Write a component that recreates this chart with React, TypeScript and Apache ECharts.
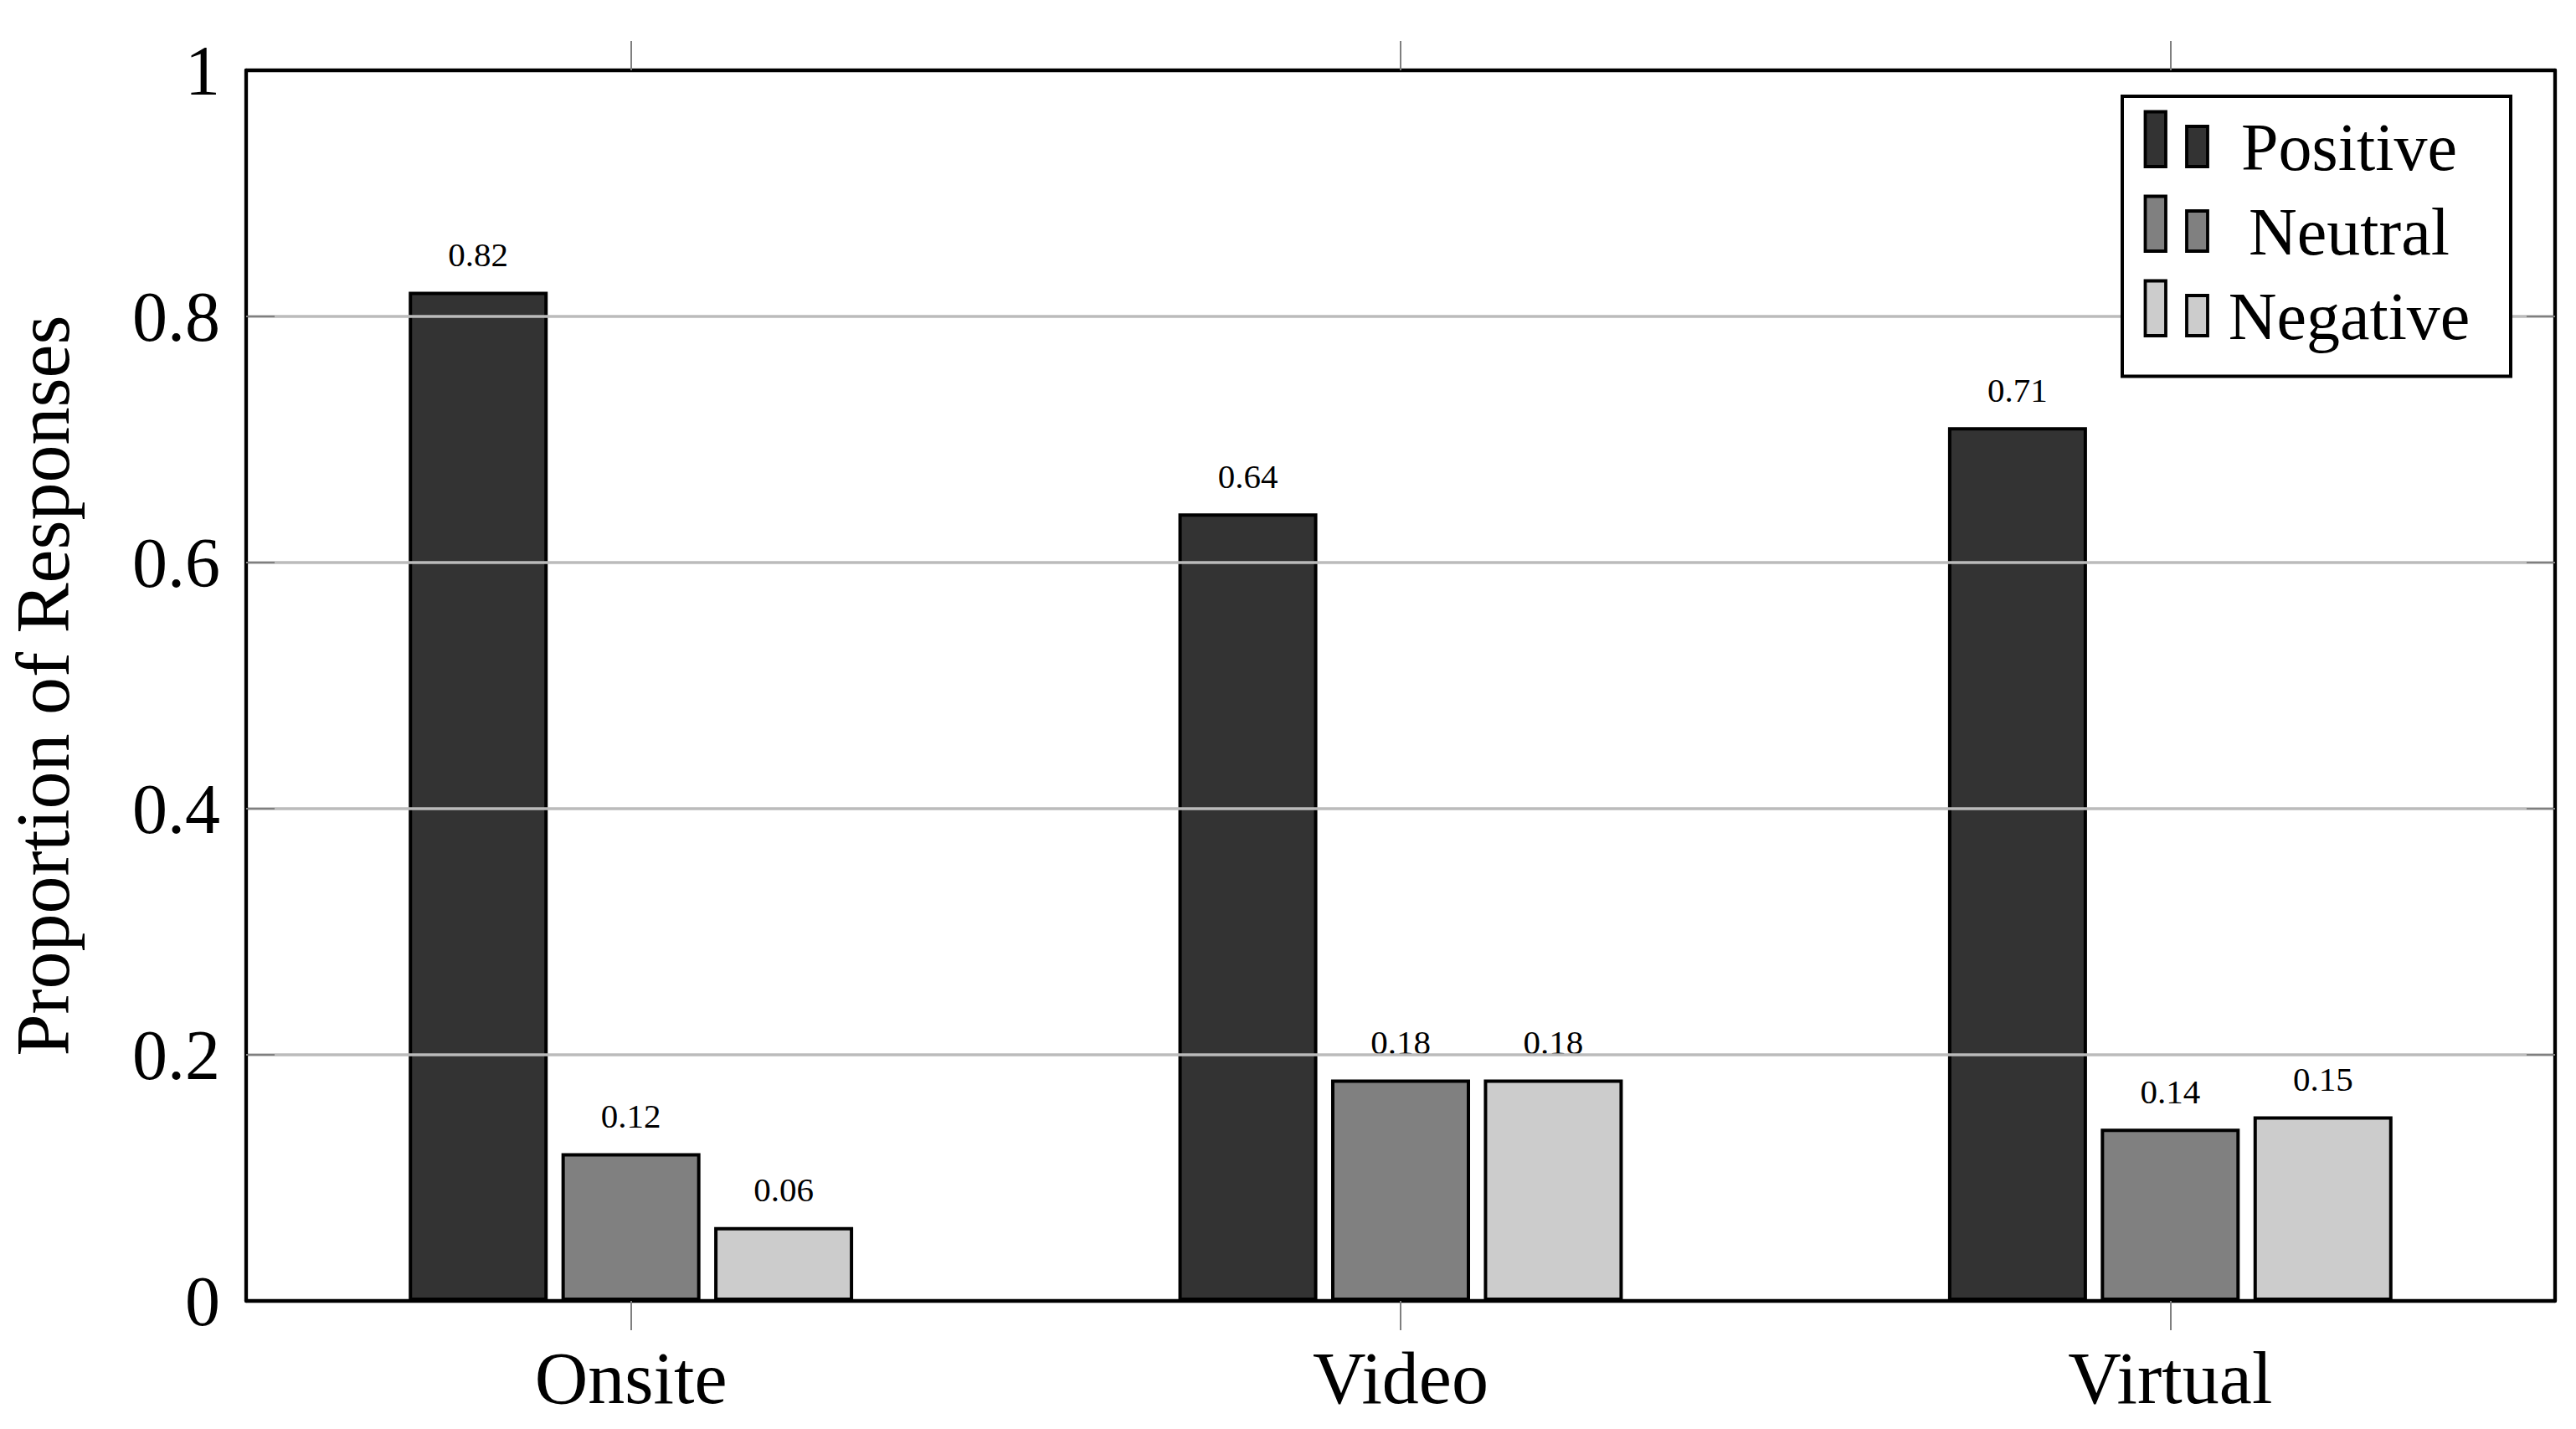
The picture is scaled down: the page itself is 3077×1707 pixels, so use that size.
import React, { useEffect, useRef } from "react";
import * as echarts from "echarts";

const categories = ["Onsite", "Video", "Virtual"];
const seriesNames = ["Positive", "Neutral", "Negative"];
const positive = [0.82, 0.64, 0.71];
const neutral = [0.12, 0.18, 0.14];
const negative = [0.06, 0.18, 0.15];
const seriesValues = [positive, neutral, negative];
const colors = ["#333333", "#808080", "#cccccc"];
const yMin = 0;
const yMax = 1;
const yInterval = 0.2;
const yTitle = "Proportion of Responses";

const FONT = "'Liberation Serif', 'Times New Roman', serif";

export default function App() {
  const ref = useRef<HTMLDivElement>(null);
  useEffect(() => {
    if (!ref.current) return;
    const chart = echarts.init(ref.current, null, { renderer: "svg" });

    const legendGraphics: any[] = [
      {
        type: "rect",
        shape: { x: 2535, y: 115, width: 464, height: 334.5 },
        style: { fill: "#ffffff", stroke: "#000000", lineWidth: 4 },
        z: 100,
      },
    ];
    seriesNames.forEach((name, i) => {
      const dy = 101 * i;
      legendGraphics.push({
        type: "rect",
        shape: { x: 2562.5, y: 133.5 + dy, width: 24.5, height: 65.5 },
        style: { fill: colors[i], stroke: "#000", lineWidth: 3.8 },
        z: 101,
      });
      legendGraphics.push({
        type: "rect",
        shape: { x: 2612, y: 151 + dy, width: 25, height: 48 },
        style: { fill: colors[i], stroke: "#000", lineWidth: 3.8 },
        z: 101,
      });
      legendGraphics.push({
        type: "text",
        x: 2806,
        y: 176 + dy,
        style: {
          text: name,
          fontSize: 80,
          fontFamily: FONT,
          fill: "#000",
          align: "center",
          verticalAlign: "middle",
        },
        z: 101,
      });
    });

    const axisLineStyle = { color: "#000", width: 4.3 };
    const tickStyle = { color: "#7f7f7f", width: 2 };

    chart.setOption({
      animation: false,
      backgroundColor: "#ffffff",
      grid: {
        left: 294,
        right: 25,
        top: 84,
        bottom: 153,
        containLabel: false,
        outerBoundsMode: "none",
      },
      xAxis: [
        {
          type: "category",
          data: categories,
          position: "bottom",
          boundaryGap: true,
          axisLine: { show: true, onZero: false, lineStyle: axisLineStyle },
          axisTick: { show: true, alignWithLabel: true, inside: false, length: 35, lineStyle: tickStyle },
          axisLabel: { fontSize: 88, fontFamily: FONT, color: "#000", margin: 48 },
          splitLine: { show: false },
          z: 22,
        },
        {
          type: "category",
          data: categories,
          position: "top",
          boundaryGap: true,
          axisLine: { show: true, onZero: false, lineStyle: axisLineStyle },
          axisTick: { show: true, alignWithLabel: true, inside: false, length: 35, lineStyle: tickStyle },
          axisLabel: { show: false },
          splitLine: { show: false },
          z: 22,
        },
      ],
      yAxis: [
        {
          type: "value",
          min: yMin,
          max: yMax,
          interval: yInterval,
          position: "left",
          name: yTitle,
          nameLocation: "middle",
          nameGap: 198,
          nameTextStyle: { fontSize: 90, fontFamily: FONT, color: "#000" },
          axisLine: { show: true, onZero: false, lineStyle: axisLineStyle },
          axisTick: { show: true, inside: true, length: 34, lineStyle: tickStyle },
          axisLabel: { fontSize: 84, fontFamily: FONT, color: "#000", margin: 31 },
          splitLine: {
            show: true,
            showMinLine: false,
            showMaxLine: false,
            lineStyle: { color: "#bbbbbb", width: 3.7 },
          },
          z: 20,
        },
        {
          type: "value",
          min: yMin,
          max: yMax,
          interval: yInterval,
          position: "right",
          axisLine: { show: true, onZero: false, lineStyle: axisLineStyle },
          axisTick: { show: true, inside: true, length: 34, lineStyle: tickStyle },
          axisLabel: { show: false },
          splitLine: { show: false },
          z: 20,
        },
      ],
      series: seriesNames.map((name, i) => ({
        type: "bar",
        name,
        data: seriesValues[i],
        xAxisIndex: 0,
        yAxisIndex: 0,
        barWidth: 166,
        barGap: "9.9%",
        itemStyle: { color: colors[i], borderColor: "#000", borderWidth: 4 },
        label: {
          show: true,
          position: "top",
          distance: 24,
          fontSize: 41,
          fontFamily: FONT,
          color: "#000",
        },
        z: 2,
      })),
      graphic: legendGraphics,
    });

    return () => chart.dispose();
  }, []);

  return (
    <div
      ref={ref}
      style={{ position: "fixed", left: 0, top: 0, width: 3077, height: 1707, background: "#fff" }}
    />
  );
}
